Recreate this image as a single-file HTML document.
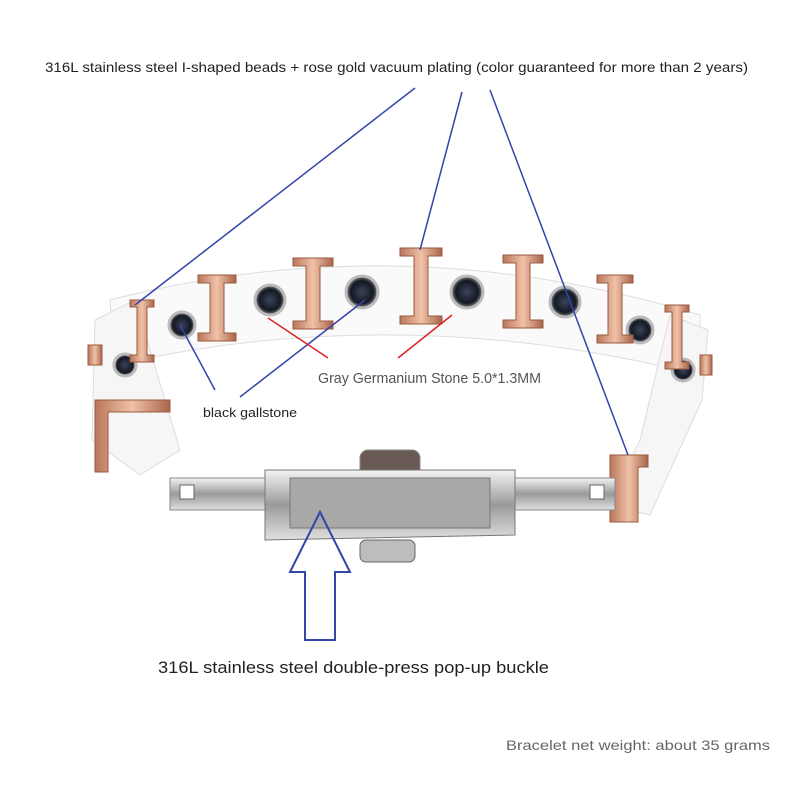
<!DOCTYPE html>
<html><head><meta charset="utf-8"><style>
body{margin:0;background:#fff;width:800px;height:800px;overflow:hidden;font-family:"Liberation Sans",sans-serif}
</style></head><body>
<svg width="800" height="800" viewBox="0 0 800 800" xmlns="http://www.w3.org/2000/svg">
<defs>
<linearGradient id="rg" x1="0" x2="1"><stop offset="0" stop-color="#b9765a"/><stop offset=".5" stop-color="#f0c2a8"/><stop offset="1" stop-color="#a8644a"/></linearGradient>
<linearGradient id="sv" x1="0" y1="0" x2="0" y2="1"><stop offset="0" stop-color="#f4f4f4"/><stop offset=".5" stop-color="#9a9a9a"/><stop offset="1" stop-color="#e0e0e0"/></linearGradient>
<radialGradient id="st"><stop offset="0" stop-color="#3a4458"/><stop offset=".7" stop-color="#141824"/><stop offset="1" stop-color="#888"/></radialGradient>
</defs>
<path d="M110,300 Q400,225 700,315 L700,375 Q400,300 115,365 Z" fill="#fafafa" stroke="#ddd"/>
<path d="M95,320 L135,300 L180,450 L140,475 L92,440 Z" fill="#f6f6f6" stroke="#ddd"/>
<path d="M670,315 L708,330 L702,400 L650,515 L608,505 L640,440 Z" fill="#f6f6f6" stroke="#ddd"/>
<g stroke="#bbb" stroke-width="3">
<circle cx="182" cy="325" r="13" fill="url(#st)"/>
<circle cx="270" cy="300" r="15" fill="url(#st)"/>
<circle cx="362" cy="292" r="16" fill="url(#st)"/>
<circle cx="467" cy="292" r="16" fill="url(#st)"/>
<circle cx="565" cy="302" r="15" fill="url(#st)"/>
<circle cx="640" cy="330" r="13" fill="url(#st)"/>
<circle cx="125" cy="365" r="11" fill="url(#st)"/>
<circle cx="683" cy="370" r="11" fill="url(#st)"/>
</g>
<g fill="url(#rg)" stroke="#9a5a40" stroke-width="1">
<path d="M198,275h38v8h-12v50h12v8h-38v-8h12v-50h-12z"/>
<path d="M293,258h40v8h-13v55h13v8h-40v-8h13v-55h-13z"/>
<path d="M400,248h42v8h-14v60h14v8h-42v-8h14v-60h-14z"/>
<path d="M503,255h40v8h-13v57h13v8h-40v-8h13v-57h-13z"/>
<path d="M597,275h36v8h-11v52h11v8h-36v-8h11v-52h-11z"/>
<path d="M130,300h24v7h-7v48h7v7h-24v-7h7v-48h-7z"/>
<path d="M665,305h24v7h-7v50h7v7h-24v-7h7v-50h-7z"/>
<path d="M95,400h75v12h-62v60h-13z"/>
<path d="M610,455h38v12h-10v55h-28z"/>
<rect x="88" y="345" width="14" height="20"/><rect x="700" y="355" width="12" height="20"/>
</g>
<rect x="170" y="478" width="445" height="32" fill="url(#sv)" stroke="#888"/>
<rect x="180" y="485" width="14" height="14" fill="#fff" stroke="#666"/>
<rect x="590" y="485" width="14" height="14" fill="#fff" stroke="#666"/>
<rect x="360" y="450" width="60" height="30" rx="8" fill="#6a5a55" stroke="#888"/>
<path d="M265,470 L515,470 L515,535 L265,540 Z" fill="url(#sv)" stroke="#777"/>
<rect x="290" y="478" width="200" height="50" fill="#a8a8a8" stroke="#777"/>
<rect x="360" y="540" width="55" height="22" rx="6" fill="#bdbdbd" stroke="#666"/>
<g stroke="#3344aa" stroke-width="1.5" fill="none">
<line x1="415" y1="88" x2="135" y2="305"/>
<line x1="462" y1="92" x2="420" y2="250"/>
<line x1="490" y1="90" x2="628" y2="455"/>
<line x1="215" y1="390" x2="180" y2="325"/>
<line x1="240" y1="397" x2="365" y2="300"/>
<path d="M305,640 L335,640 L335,572 L350,572 L320,512 L290,572 L305,572 Z" stroke-width="2"/>
</g>
<g stroke="#dd2222" stroke-width="1.5">
<line x1="268" y1="318" x2="328" y2="358"/>
<line x1="452" y1="315" x2="398" y2="358"/>
</g>
<text x="45" y="72" font-size="14" textLength="703" lengthAdjust="spacingAndGlyphs" fill="#222">316L stainless steel I-shaped beads + rose gold vacuum plating (color guaranteed for more than 2 years)</text>
<text x="318" y="383" font-size="15" textLength="223" lengthAdjust="spacingAndGlyphs" fill="#555">Gray Germanium Stone 5.0*1.3MM</text>
<text x="203" y="417" font-size="13" textLength="94" lengthAdjust="spacingAndGlyphs" fill="#222">black gallstone</text>
<text x="158" y="673" font-size="17" textLength="391" lengthAdjust="spacingAndGlyphs" fill="#222">316L stainless steel double-press pop-up buckle</text>
<text x="506" y="750" font-size="14" textLength="264" lengthAdjust="spacingAndGlyphs" fill="#666">Bracelet net weight: about 35 grams</text>
</svg>
</body></html>
